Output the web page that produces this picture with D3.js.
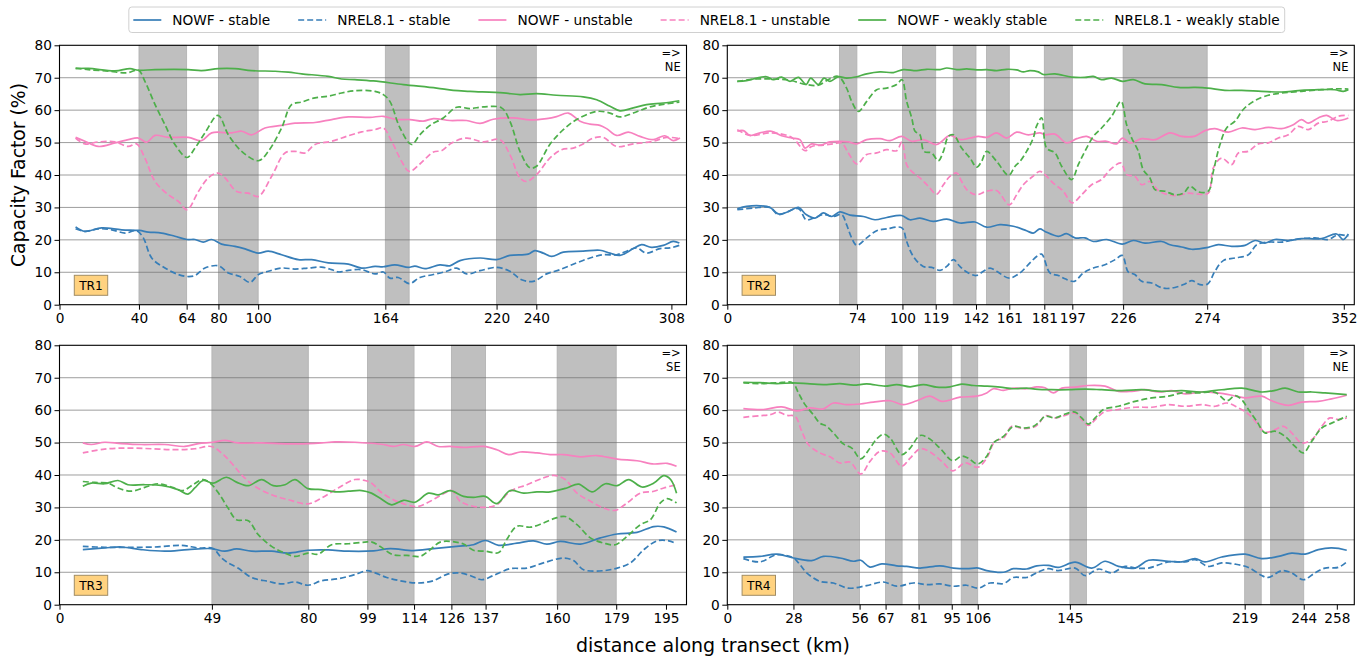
<!DOCTYPE html>
<html>
<head>
<meta charset="utf-8">
<script src="https://cdn.jsdelivr.net/npm/d3@7"></script>
<style>
  html, body { margin: 0; padding: 0; background: #fff; }
  svg { display: block; font-family: "DejaVu Sans", sans-serif; }
</style>
</head>
<body>
<svg id="fig" width="1372" height="657"></svg>
<script>
// ---------------- data ----------------
const legendLabels = ["NOWF - stable", "NREL8.1 - stable", "NOWF - unstable",
                      "NREL8.1 - unstable", "NOWF - weakly stable", "NREL8.1 - weakly stable"];
const yTicks = [0, 10, 20, 30, 40, 50, 60, 70, 80];

// Transect TR1
const tr1Ticks = [0, 40, 64, 80, 100, 164, 220, 240, 308];
const tr1Bands = [[40, 64], [80, 100], [164, 176], [220, 240]];
const tr1NowfStable = [[8.1,24],[12.8,22.6],[21.2,23.7],[31.3,23.1],[40.2,22.9],[44.7,22.4],[51.4,22.1],[58.1,21.1],[64.2,20.1],[68.2,20.1],[72.4,19.3],[76.6,20.1],[81.6,18.7],[88.3,18],[93.4,17.2],[100.1,15.9],[105.1,16.5],[111.8,15.4],[120.2,13.9],[126.9,13.9],[135.3,12.9],[145.4,12.5],[152.1,11.3],[158.8,11.8],[163,11.7],[168.8,12.3],[175.6,11.5],[178.9,11.9],[183.9,11.1],[191.5,12.3],[196.5,12],[201.6,13.6],[211.7,14.4],[220,13.9],[226.7,15.2],[235.9,15.6],[239.3,16.7],[243.5,15.9],[247.7,14.9],[253.6,16.2],[263.6,16.5],[272,16.8],[277.1,15.9],[282.1,15.2],[288.8,17.3],[293,18.5],[298,17.7],[303.9,18.3],[308.9,19.5],[312,19]];
const tr1NrelStable = [[8.1,23.4],[12.8,22.6],[19.5,23.4],[26.3,23.1],[33,22.1],[38.8,22.8],[42.2,20.6],[46.4,14.4],[53.1,11.3],[59.8,9.3],[64.2,8.7],[68.2,9],[73.2,11.3],[80,12],[85,9.8],[90.8,8.7],[95.9,6.9],[100.1,9.3],[105.1,10.3],[111.8,11.3],[118.5,11],[125.2,11.3],[131.9,11.6],[137,10.8],[140.3,10.1],[145.4,10.6],[152.1,10.8],[158.8,9.5],[163,10.1],[166.3,8.2],[170.5,8.4],[176.1,6.5],[181.4,8.4],[188.2,9.3],[194.8,10.3],[199.9,11.3],[204.9,9.5],[211.7,10.5],[220,11.5],[226.7,10.3],[232.6,7.7],[238.5,7.2],[245.2,9.5],[251.9,10.8],[260.3,12.9],[267,14.4],[273.7,15.4],[280.4,15.4],[285.5,16.5],[290.5,17.5],[295.5,15.9],[302.2,17.3],[307.3,17.5],[312,18.3]];
const tr1NowfUnstable = [[8.1,51.6],[12.8,50.4],[19.5,48.8],[27.9,49.9],[34.6,50.9],[39.7,51.4],[43.9,50.1],[48.1,52.2],[54.8,51.6],[64.8,51.6],[71.5,50.6],[76.6,53],[86.6,53],[91.7,53.5],[96.7,52.4],[103.4,54.5],[111.8,55.3],[118.5,56],[128.6,56.2],[137,57.1],[145.4,57.9],[156.3,57.8],[163,58.1],[169.7,57.1],[176.4,57.1],[183.1,56.6],[188.2,57.4],[196.5,56.8],[204.9,56.8],[211.7,55.9],[218.3,57.2],[228.4,57.6],[236.8,57],[245.2,57.4],[250.2,58],[256.1,59.1],[262,56.6],[267,55.7],[272,55.3],[275.4,54.3],[280.4,52.2],[286.3,53.2],[292.2,51.9],[298.9,50.9],[304.7,52.1],[308.9,50.6],[312.3,51.4]];
const tr1NrelUnstable = [[8.1,51.4],[12.8,49.6],[19.5,50.2],[27.9,50.2],[34.6,48.8],[38.8,49.6],[43,45.2],[48.1,38],[54.8,33.9],[59.8,31.9],[64.2,29.3],[69.9,34.9],[74.9,39.1],[79.8,40.6],[83.3,39.1],[89.2,34.9],[95,34.4],[100.1,33.4],[106.8,39.6],[113.5,46.8],[118.5,47.3],[123.6,46.8],[128.6,49.4],[137,50.4],[145.4,52.1],[152.1,53.3],[158.8,54],[163,54.5],[167.2,50.4],[172.2,44.2],[176.1,41.1],[181.4,43.4],[188.2,47.1],[192.3,47.5],[197.4,49.9],[204.9,51.4],[213.3,50.2],[221.7,50.9],[226.7,46.3],[231.8,39.1],[235.1,38],[240.1,40.1],[246.8,45.2],[252.7,47.8],[258.6,48.3],[263.6,49.6],[268.7,51.4],[273.7,51.6],[280.4,48.8],[288.8,49.6],[298.9,50.4],[305.6,51.6],[312.3,51.2]];
const tr1NowfWeak = [[8.1,72.8],[14.5,72.9],[27.9,72.1],[35.5,72.8],[39.7,72.3],[48.1,72.5],[64.8,72.5],[71.5,72.2],[80,72.8],[88.3,72.8],[96.7,72.2],[108.5,72],[115.2,71.7],[121.9,71.2],[135.3,70.4],[142,69.6],[148.7,69.4],[158,69],[173.1,67.9],[189.8,66.8],[198.2,66.1],[206.6,65.8],[223.4,65.3],[231.8,64.8],[240.1,65.1],[250.2,64.6],[263.6,64.1],[270.4,63.2],[277.1,61.2],[282.1,59.8],[288.8,60.7],[295.5,61.7],[303.9,62.2],[312,62.9]];
const tr1NrelWeak = [[8.1,73],[14.5,72.5],[25,72],[34,71.5],[39.7,72.3],[43,68.9],[48.1,61.7],[53.1,55.5],[58.1,49.4],[64.2,45.4],[68.2,48.3],[73.2,53],[79.8,58.4],[85,52.4],[91.7,47.3],[100.1,44.4],[105.1,47.3],[111.8,54.5],[116.8,61.7],[121.9,62.5],[128.6,63.8],[135.3,64.3],[142,65.3],[148.7,66],[158.8,65.8],[163,64.8],[166.3,62.7],[171.4,54.5],[177.2,49.4],[181.4,52.4],[186.5,55.3],[193.2,57.6],[199.9,60.9],[206.6,60.5],[213.3,61],[222.5,60.7],[226.7,56.6],[231.8,47.3],[236.8,42.2],[240.1,42.7],[246.8,49.4],[253.6,54],[260.3,57.1],[270.4,59.6],[277.1,59.1],[282.1,57.9],[288.8,59.1],[297.2,61],[312,62.5]];

// Transect TR2
const tr2Ticks = [0, 74, 100, 119, 142, 161, 181, 197, 226, 274, 352];
const tr2Bands = [[64, 74], [100, 119], [129, 142], [148, 161], [181, 197], [226, 274]];
const tr2NowfStable = [[5.7,29.6],[11,30.3],[18.7,30.5],[24.4,30],[29.1,28],[34.4,28.6],[40.6,30],[45,27.8],[50.1,26.7],[54.8,28.3],[59.6,27.2],[64.3,28.6],[70.1,27.6],[77.7,27.2],[84.3,26.2],[91,26.9],[99.5,27.5],[104.3,26.2],[110,26.7],[117.6,25.7],[125.3,26.4],[132.8,25.2],[141.4,25.5],[148.1,23.9],[155.7,24.7],[163.3,24.2],[170.9,22.8],[174.7,22.1],[178.5,23.4],[181.4,22.6],[189,21.1],[193.7,21.9],[198.5,20.6],[204.2,20.6],[209,19.5],[216.6,20.1],[225.5,18.7],[231.8,19.8],[238.5,19],[248,19.5],[252.8,18.5],[259.4,17.8],[265.2,17.1],[274.6,17.7],[280.3,18.5],[288,18],[295.6,18.3],[301.3,19.8],[307,19],[312.7,20.1],[320.3,19.8],[327.9,20.4],[339.3,20.4],[347.9,21.8],[351.7,20.1],[354.6,21.8]];
const tr2NrelStable = [[5.7,29.3],[14.9,29.8],[24.4,30],[29.1,27.8],[40.6,29.6],[45,26.2],[50.1,26.9],[54.8,27.8],[60.5,27.2],[65.3,27.8],[68.1,24.7],[71,20.6],[73.9,18.3],[79.6,20.6],[85.3,22.8],[91,23.4],[99.7,23.7],[102.4,19.5],[106.2,14.9],[111.9,11.8],[116.7,11.5],[121.5,10.6],[125.3,11.8],[129.1,13.9],[132.8,11.8],[136.7,10.1],[142,9],[146.2,10.3],[150,11.3],[153.8,10.3],[161,8.2],[167.1,9.8],[172.8,12.9],[177,15],[179.5,15.6],[184.2,9.8],[189,9],[192.8,8],[198.1,7.2],[203.3,9.8],[209,11.3],[215.6,12.3],[221.4,13.9],[225.5,15.2],[228.9,10.1],[232.7,9.3],[236.6,7.2],[242.3,6.7],[248.9,5.1],[255.6,5.3],[261.3,6.4],[265.2,7.4],[269.9,6.2],[274.3,6.4],[278.4,10.3],[283.2,13.6],[289.9,14.4],[297.5,15.4],[302.3,18.5],[308.9,19.3],[316.5,19.3],[324.1,20.1],[335.5,20.6],[343.1,20.1],[348.8,21.6],[354.6,21.1]];
const tr2NowfUnstable = [[5.7,53.5],[9.2,53.7],[13,52.2],[18.7,53],[25.3,53.5],[31,52.1],[36.8,51.4],[41.5,50.9],[44.4,48.3],[48.2,49.6],[53,49.2],[58.6,50.2],[64.3,50.4],[69.1,50.2],[73.9,49.6],[79.6,50.9],[87.2,51.2],[92.9,50.6],[99.5,51.9],[105.3,50.4],[111.9,50.9],[119.5,49.4],[127.1,52.2],[132.8,50.9],[138.6,51.4],[143.3,51.9],[148.1,51.6],[153.8,53],[159.5,51.4],[165.2,53.2],[171.9,52.4],[178.5,53],[181.4,52.4],[187.1,52.6],[193.7,49.9],[199.5,51.2],[205.2,51.9],[210.9,50.4],[216.6,50.4],[222.3,49.6],[225.5,51.4],[229.9,49.9],[236.6,51.2],[244.2,50.9],[252.8,53],[259.4,51.9],[267.1,52],[272.7,53.7],[278.4,54.3],[286.1,53.2],[293.7,54.5],[301.3,54],[308.9,54.7],[316.5,54.3],[323.2,55.5],[327.9,57.1],[331.7,56],[337.4,57.6],[342.2,58.4],[347.9,56.8],[354.6,57.6]];
const tr2NrelUnstable = [[5.7,54],[13,52.2],[25.3,53],[36.8,51.6],[44.4,47.5],[48.2,48.8],[54.8,49.2],[60.5,49.6],[65.3,49.9],[69.1,46.8],[73.9,43.4],[79.6,46.3],[85.3,46.8],[91,47.8],[96.7,47.5],[99.7,50.2],[102.4,43.2],[105.3,41.1],[110,39.1],[114.8,36.5],[119.5,34.1],[123.4,37],[127.1,39.6],[131,40.6],[133.8,38],[136.7,35.5],[142,33.9],[148.1,35],[153.8,35.2],[161,30.8],[165.2,33.9],[169,37],[173.8,39.3],[178.5,41.1],[181.4,40.1],[186.1,37.5],[191.8,35],[196.9,31.4],[202.3,33.9],[208,37],[213.7,38.6],[218.5,41.6],[224.8,43.7],[228,40.1],[232.7,39.6],[236.6,37],[241.3,38],[246.1,35.2],[251.8,33.9],[257.5,33.7],[263.2,34.4],[269,34.1],[274.6,34.4],[277.5,42.2],[282.2,45.2],[288,43.2],[291.8,46.8],[297.5,47.3],[303.2,49.6],[308.9,49.9],[314.6,51.4],[320.3,52.4],[326,55],[331.7,54],[337.4,56],[343.1,56.6],[348.8,58.1],[354.6,58.4]];
const tr2NowfWeak = [[5.7,68.9],[11,69.1],[16.8,69.9],[22.5,70.3],[26.3,69.4],[31,70.2],[35.8,68.9],[40.6,70.1],[45,67.9],[47.6,69.9],[52,67.9],[55.2,69.9],[58.6,68.9],[63.4,70.3],[68.1,69.9],[73.9,70.3],[79.6,71.2],[87.2,71.8],[94.8,71.6],[100.5,72.5],[108.1,72.2],[113.8,72.6],[121.5,72.5],[125.3,73],[131,72.5],[136.7,72.7],[142.4,72.4],[148.1,72.5],[153.8,72.2],[159.5,72.6],[165.2,72.4],[169,71.8],[172.8,72.2],[177.6,71.8],[180.4,71],[187.1,71.2],[196.6,70.2],[204.2,70.1],[209,70.4],[213.7,69.4],[219.4,69.9],[225.5,68.9],[231.8,69.4],[238.5,68.1],[248,67.9],[257.5,67],[267.1,67],[274.3,66.8],[284.1,66.1],[293.7,66.1],[305.1,65.8],[316.5,65.6],[326,66],[337.4,66.3],[346.9,66.3],[351.7,65.8],[354.6,66.3]];
const tr2NrelWeak = [[5.7,68.9],[16.8,69.6],[26.3,69.6],[35.8,69.2],[45,67.9],[52,67.7],[58.6,69.7],[63.4,70.4],[68.1,66.8],[71,62.7],[74.8,59.6],[79.6,62.7],[85.3,66.3],[91,66.8],[96.7,67.9],[99.7,69.4],[102.4,62.7],[105.3,57.6],[107.2,53.5],[110,52.4],[112.3,47.3],[116.7,46.8],[120.5,44.4],[123.4,47.3],[126.2,51.9],[129.1,52.4],[133.8,48.3],[138.6,45.2],[142.4,42.4],[145.2,44.2],[148.1,47.3],[153.8,44.2],[160.6,39.9],[164.3,42.7],[167.1,44.2],[170.9,47.3],[174.7,51.4],[176.5,55],[179.5,57.6],[182.3,48.3],[187.1,46.8],[190.9,42.7],[196.6,38.6],[200.4,43.2],[204.2,47.3],[209,51.9],[213.7,54.5],[219.4,58.1],[224.8,62.7],[228,55.5],[230.9,51.4],[234.7,47.3],[237.5,41.6],[241.3,39.1],[244.2,35.5],[249.9,35],[255.6,33.9],[260.4,34.4],[264.2,36.5],[269,34.8],[274.6,35],[277.5,41.1],[281.3,49.4],[285.1,54.5],[289.9,56.6],[294.6,60.2],[300.4,62.7],[307,64.3],[316.5,65.3],[327.9,65.8],[339.3,66.3],[348.8,66.6],[354.6,66.5]];

// Transect TR3
const tr3Ticks = [0, 49, 80, 99, 114, 126, 137, 160, 179, 195];
const tr3Bands = [[49, 80], [99, 114], [126, 137], [160, 179]];
const tr3NowfStable = [[7.5,17],[14.5,17.5],[19.9,17.8],[26.3,17],[33.8,16.5],[41.3,17],[48.8,17.3],[53.1,16.5],[56.9,17.2],[61.7,16.5],[68.2,16.5],[73.5,15.9],[79.9,16.8],[86.4,16.9],[92.9,16.5],[101,16.6],[106.3,17.3],[113.8,16.7],[120.2,17.3],[127.7,18],[133.1,18.5],[136.9,19.8],[141.2,18.3],[147.1,19],[152.4,19.7],[156.7,18.7],[161,19.5],[167.5,18.7],[173.9,20.6],[179.3,21.8],[185.7,22.3],[191.1,24.1],[194.3,24],[198.4,22.4]];
const tr3NrelStable = [[7.5,18],[14.5,17.7],[22,17.7],[30.6,17.8],[39.2,18.3],[44.6,17.5],[49.4,17.3],[52.1,14.4],[54.2,12.9],[57.4,11.3],[61.7,8.4],[67.1,7.2],[71.4,6.4],[75.7,7],[79.9,6],[84.3,7.4],[89.6,8],[95,9.3],[98.8,10.5],[101,10],[105.2,8.4],[110.6,7.2],[115.4,6.7],[120.2,7.4],[125,9.5],[128.8,9.8],[132,9],[135.8,7.7],[139.5,9],[144.9,11.1],[150.3,11.3],[155.6,12.9],[162.1,14.4],[165.3,13.6],[168.5,10.8],[175,10.5],[179.3,11.3],[183.6,12.9],[187.9,17],[192.2,19.7],[195.9,19.7],[198.4,18.8]];
const tr3NowfUnstable = [[7.5,49.9],[10.2,49.4],[14.5,50.1],[19.9,49.7],[26.3,49.4],[33.8,49.4],[40.3,48.8],[44.6,49.7],[49.4,50.1],[53.1,50.7],[57.4,49.9],[65,49.9],[73.5,49.6],[79.9,49.7],[84.3,49.9],[88.6,50.2],[95,50.1],[100,49.8],[104.1,49.4],[107.3,48.8],[110.6,49.4],[114.3,48.8],[118.1,50.2],[121.8,48.8],[125.6,48.8],[129.9,48.5],[136.3,48.8],[140.6,47.8],[144.4,46.3],[148.1,47.1],[153.5,46.8],[157.8,46.3],[162.1,46.3],[167.5,45.6],[172.8,46],[179.3,44.9],[185.7,44.4],[191.1,43.4],[195.4,43.6],[198.4,42.7]];
const tr3NrelUnstable = [[7.5,46.8],[14.5,48],[22,48.3],[29.5,48.1],[37,47.8],[43.5,48.1],[48.8,48.8],[52.1,46.8],[55.3,43.7],[58.5,40.1],[62.8,36.5],[68.2,33.9],[73.5,32.4],[79.9,31.1],[84.3,32.9],[89.6,36],[95,38.6],[98.2,38.3],[100.5,37.4],[103,35],[107.3,32.4],[111.7,30.8],[115.4,30.3],[119.2,31.9],[122.9,33.9],[126.1,35.2],[128.8,31.9],[132,30.6],[136.9,30],[140.6,30.8],[144.9,35],[150.3,37],[155.6,39.1],[158.9,39.9],[162.6,38.6],[166.4,34.4],[170.7,31.9],[175,29.8],[178.7,29.1],[182.5,31.4],[186.8,34.4],[191.1,35],[194.3,36],[198.4,37]];
const tr3NowfWeak = [[7.5,36.5],[10.2,37.5],[14.5,37.3],[18.8,38.3],[22,37],[27.4,37],[32.7,36.8],[38.1,35.5],[41.3,34.1],[43.5,36],[46.2,38.3],[49.4,37.5],[53.7,39.3],[56.9,37.8],[60.7,36.7],[65,38.6],[68.7,36.7],[72.5,37],[75.7,38.6],[79.9,35.8],[84.3,35.5],[88.6,34.8],[92.9,35],[97.2,35.2],[100.3,34.4],[103,32.9],[106.8,30.8],[110.6,32.2],[114.3,31.6],[118.6,34.4],[121.8,33.9],[125.6,35.2],[129.9,33.4],[133.1,33.1],[136.9,33.4],[140.6,31.2],[144.9,35.2],[149.2,34.4],[153.5,34.8],[157.8,34.8],[163.1,36],[166.9,37.2],[171.2,34.8],[175.5,37.3],[179.3,36.7],[183,38.6],[187.3,36.3],[191.1,37.5],[194.3,39.8],[196.5,38.6],[198.4,34.4]];
const tr3NrelWeak = [[7.5,38],[11.3,37.7],[15.6,37.5],[18.8,36],[23.1,35],[27.4,36.2],[31.7,37.3],[36,36.3],[39.7,35.2],[42.9,37],[46.2,38.6],[48.8,37.2],[51.5,33.9],[54.2,29.8],[56.9,26.2],[60.7,25.9],[63.9,21.6],[68.2,18],[72.5,15.9],[75.7,14.9],[79.9,15.9],[83.2,15.6],[87.5,18.5],[92.9,18.8],[98.2,19.3],[100.5,19.3],[103,18],[107.3,15.4],[111.7,15.2],[115.9,14.9],[118.6,16.5],[122.4,19.3],[126.1,19.5],[129.9,18.7],[133.1,16.8],[136.9,16.5],[141.2,16.1],[143.8,20.1],[147.1,24.2],[151.4,23.9],[155.6,25.2],[159.4,26.7],[162.6,27.2],[166.4,24.7],[170.7,20.6],[175,19],[178.7,18.5],[182.5,21.1],[186.8,24.7],[190,26.2],[193.2,31.4],[195.4,32.7],[198.4,31.4]];

// Transect TR4
const tr4Ticks = [0, 28, 56, 67, 81, 95, 106, 145, 219, 244, 258];
const tr4Bands = [[28, 56], [67, 74], [81, 95], [99, 106], [145, 152], [219, 226], [230, 244]];
const tr4NowfStable = [[6.8,14.7],[13.8,14.9],[20.9,15.6],[28,14.4],[35.7,13.6],[40.7,14.9],[47.7,14.4],[53.4,13.4],[56.5,13.7],[60.4,11.6],[65.4,12.6],[71.7,12],[75.9,11.8],[81.6,11.3],[90,12],[95.7,11.3],[101.3,11.1],[106.3,11.3],[109.8,10.5],[116.9,10],[121.1,11.1],[126.7,11],[131,12],[135.9,12.1],[140.1,11.5],[147.2,13.1],[154.3,11.3],[159.9,13.4],[165.6,11.8],[172.6,11.3],[178.3,13.7],[186.7,13.4],[192.4,13.2],[198,14.2],[202.2,13.2],[209.3,14.7],[219.2,15.6],[226.2,14.2],[233.3,14.9],[238.9,15.9],[244.6,15.6],[250.2,17],[255.8,17.5],[262.2,16.8]];
const tr4NrelStable = [[6.8,14.2],[13.8,13.2],[20.9,15.4],[28,14.4],[30.8,12.3],[33.6,9.8],[39.2,7.2],[44.9,6.7],[51.2,5.1],[59,5.9],[66.1,7],[71.7,5.7],[78.8,6.7],[84.4,6.2],[90,6.4],[95.7,5.7],[101.3,6],[106.3,5.1],[111.2,6.7],[116.9,6.5],[121.1,8.4],[126.7,8.4],[132,10.2],[135.9,11.1],[140.1,10.5],[147.2,11.3],[151.4,9],[157.1,11],[162.7,9.8],[168.4,11.8],[172.6,11.3],[178.3,11.3],[186.7,13.2],[193.8,13.2],[198,13.9],[203.6,11.8],[209.3,12.9],[215,12.5],[220.6,11.5],[226.2,9],[229,8.4],[234.7,10.5],[238.9,9.8],[243.8,7.7],[248.7,9.8],[253,11.3],[258.6,11.5],[262.2,13.2]];
const tr4NowfUnstable = [[6.8,60.5],[15.3,60.2],[23,61],[29.4,59.8],[35,60.7],[40.7,60.4],[44.9,62.2],[50.5,61.7],[56.2,61.9],[61.8,62.5],[68.9,62.9],[74.5,61.7],[80.2,62.9],[85.8,64.3],[90.8,62.7],[98.5,64],[105.6,64.3],[109.8,65.3],[112.6,66.6],[116.9,66.1],[121.1,66.8],[126.7,66.6],[131,67.2],[134.5,66.9],[138,65.3],[141.6,66.8],[147.2,67.1],[152.8,67.6],[159.9,67.4],[165.6,65.8],[171.2,65.8],[176.9,66.3],[182.5,65.6],[188.1,66],[193.8,65],[200.8,65.6],[207.2,65.3],[213.6,64.6],[219.2,63.8],[226.2,64.3],[230.4,62.9],[237.5,61.5],[243.1,62.5],[250.2,62.7],[255.8,63.5],[262.2,64.6]];
const tr4NrelUnstable = [[6.8,57.8],[13.8,58.3],[18.1,58.6],[21.6,59.4],[25.1,58.4],[28.7,58.1],[31.5,53.5],[34.3,49.4],[39.2,46.8],[43.5,45.6],[47.7,43.7],[51.9,44],[56.5,40.3],[60.4,44.2],[64.6,47.3],[68.9,46.8],[73.8,42.7],[77.4,45.2],[81.6,48.1],[85.8,47.1],[90.8,44.2],[95.4,41.3],[100.6,43.7],[106,42.4],[109.8,45.2],[113.3,50.4],[116.9,51.4],[120.4,55],[125.3,54.3],[129.6,54.7],[132,56],[134.5,58.3],[138.8,57.6],[143,58.4],[147.2,59.1],[150,57.1],[152.8,55.3],[156.4,57.6],[159.9,59.6],[165.6,60.2],[172.6,60.9],[179.7,60.9],[186.7,61.7],[193.8,61.2],[200.8,61.7],[206.5,61.2],[211.4,62.2],[216.4,60.7],[220.6,58.8],[224.1,56],[227.6,53.2],[231.9,54],[235.4,55],[238.9,53],[243.1,49.9],[247.4,50.9],[251.6,55],[255.1,57.6],[258.6,57.1],[262.2,57.6]];
const tr4NowfWeak = [[6.8,68.6],[13.8,68.5],[20.9,68.2],[28,68.4],[35,68.1],[42.1,67.9],[47.7,68.2],[53.4,67.7],[59,68.1],[66.8,67.4],[71.7,67.9],[77.4,67.2],[83,67.9],[88.6,67.1],[94.3,67.2],[99.2,68],[104.2,67.6],[109.8,67.4],[115.5,67.1],[121.1,66.6],[126.7,66.8],[130.3,66.5],[137.3,66.3],[144.4,66.3],[151.4,66.5],[158.5,66.3],[167,66],[175.4,66.3],[183.9,65.8],[192.4,66],[200.8,65.6],[209.3,66.3],[217.8,66.8],[226.2,65.6],[231.9,66.1],[236.1,66.8],[241.7,65.6],[247.4,65.6],[253,65.3],[262.2,64.8]];
const tr4NrelWeak = [[6.8,68.4],[13.8,68.2],[20.9,68.4],[27.7,68.4],[30.1,65.3],[32.9,61.7],[36.4,58.6],[39.2,56],[42.1,55],[45.6,52.4],[49.1,49.6],[52.7,48.3],[56.5,45],[60.4,48.3],[63.2,51.1],[66.1,52.6],[68.9,51.4],[73.8,46.3],[77.4,48.3],[81.6,52.2],[85.1,51.4],[90,48.3],[95.4,44.4],[99.2,45.8],[102,45.2],[106,43.4],[109.8,45.8],[112.6,49.9],[116.9,51.9],[121.1,55],[125.3,54.5],[129.6,55],[132,56.3],[134.5,58.1],[138.8,57.6],[143,58.8],[147.2,59.4],[150,57.6],[152.8,55.7],[155.7,57.6],[159.2,60.2],[165.6,61.2],[172.6,62.7],[179.7,63.8],[186.7,64.3],[192.4,65.3],[199.4,65.3],[206.5,65.5],[211.4,62.9],[215,64.5],[217.8,63.2],[220.6,60.2],[224.1,56.6],[227.6,53],[231.9,53.5],[236.1,51.9],[240.3,48.8],[243.8,46.8],[247.4,50.4],[251.6,54.5],[255.8,56],[262.2,58.1]];

// ---------------- styles ----------------
const seriesColors = ["#377eb8", "#377eb8", "#f781bf", "#f781bf", "#4daf4a", "#4daf4a"];
const seriesDashed = [false, true, false, true, false, true];

const panels = [
  { name: "TR1", dir: "NE", xMax: 315.6, ticks: tr1Ticks, bands: tr1Bands,
    series: [tr1NowfStable, tr1NrelStable, tr1NowfUnstable, tr1NrelUnstable, tr1NowfWeak, tr1NrelWeak] },
  { name: "TR2", dir: "NE", xMax: 358, ticks: tr2Ticks, bands: tr2Bands,
    series: [tr2NowfStable, tr2NrelStable, tr2NowfUnstable, tr2NrelUnstable, tr2NowfWeak, tr2NrelWeak] },
  { name: "TR3", dir: "SE", xMax: 201.6, ticks: tr3Ticks, bands: tr3Bands,
    series: [tr3NowfStable, tr3NrelStable, tr3NowfUnstable, tr3NrelUnstable, tr3NowfWeak, tr3NrelWeak] },
  { name: "TR4", dir: "NE", xMax: 265.4, ticks: tr4Ticks, bands: tr4Bands,
    series: [tr4NowfStable, tr4NrelStable, tr4NowfUnstable, tr4NrelUnstable, tr4NowfWeak, tr4NrelWeak] }
];

// ---------------- layout ----------------
const svg = d3.select("#fig");
const FONT = '"DejaVu Sans", sans-serif';
const W = 627, H = 259.4;
const origins = [[59.5, 45.3], [727.3, 45.3], [59.5, 345.3], [727.3, 345.3]];

svg.append("rect").attr("width", 1372).attr("height", 657).attr("fill", "#fff");

panels.forEach((p, i) => {
  const [ox, oy] = origins[i];
  const g = svg.append("g").attr("transform", `translate(${ox},${oy})`);
  const x = d3.scaleLinear().domain([0, p.xMax]).range([0, W]);
  const y = d3.scaleLinear().domain([0, 80]).range([H, 0]);

  // shaded segments
  g.selectAll("rect.band").data(p.bands).join("rect")
    .attr("class", "band")
    .attr("x", d => x(d[0])).attr("width", d => x(d[1]) - x(d[0]))
    .attr("y", 0).attr("height", H)
    .attr("fill", "#bfbfbf")
    .attr("stroke", "#b0b0b0").attr("stroke-width", 0.8);

  // horizontal grid
  g.selectAll("line.grid").data(yTicks.filter(v => v > 0 && v < 80)).join("line")
    .attr("class", "grid")
    .attr("x1", 0).attr("x2", W)
    .attr("y1", d => y(d)).attr("y2", d => y(d))
    .attr("stroke", "#6e6e6e").attr("stroke-opacity", 0.75).attr("stroke-width", 0.9);

  // series lines
  const line = d3.line()
    .x(d => x(d[0])).y(d => y(d[1]))
    .curve(d3.curveCatmullRom.alpha(0.5));
  p.series.forEach((s, k) => {
    g.append("path")
      .datum(s)
      .attr("d", line)
      .attr("fill", "none")
      .attr("stroke", seriesColors[k])
      .attr("stroke-width", 1.7)
      .attr("stroke-linejoin", "round")
      .attr("stroke-dasharray", seriesDashed[k] ? "6,3" : null);
  });

  // axes
  const xAxis = g.append("g").attr("transform", `translate(0,${H})`)
    .call(d3.axisBottom(x).tickValues(p.ticks).tickFormat(d3.format("d"))
      .tickSize(5).tickPadding(4));
  const yAxis = g.append("g")
    .call(d3.axisLeft(y).tickValues(yTicks).tickFormat(d3.format("d"))
      .tickSize(5).tickPadding(2.5));
  [xAxis, yAxis].forEach(a => {
    a.select(".domain").remove();
    a.attr("font-family", FONT).attr("font-size", 13.7);
    a.selectAll("line").attr("stroke", "#000").attr("stroke-width", 1);
    a.selectAll("text").attr("fill", "#000");
  });

  // frame
  g.append("rect").attr("width", W).attr("height", H)
    .attr("fill", "none").attr("stroke", "#000").attr("stroke-width", 1.1);

  // direction marker
  g.append("text").attr("x", W - 5.8).attr("y", 7.7).attr("dy", "0.35em")
    .attr("text-anchor", "end").attr("font-family", FONT).attr("font-size", 11.5)
    .text("=>");
  g.append("text").attr("x", W - 5.8).attr("y", 21.9).attr("dy", "0.35em")
    .attr("text-anchor", "end").attr("font-family", FONT).attr("font-size", 11.5)
    .text(p.dir);

  // transect tag
  const bx = 14.8, bw = 33.4, bh = 20, by = H - 9.4 - bh;
  g.append("rect").attr("x", bx).attr("y", by).attr("width", bw).attr("height", bh)
    .attr("fill", "#ffd280").attr("stroke", "#a08c64").attr("stroke-width", 1);
  g.append("text").attr("x", bx + bw / 2).attr("y", by + bh / 2).attr("dy", "0.36em")
    .attr("text-anchor", "middle").attr("font-family", FONT).attr("font-size", 12.2)
    .text(p.name);
});

// axis titles
svg.append("text")
  .attr("transform", "translate(18,175) rotate(-90)")
  .attr("dy", "0.35em").attr("text-anchor", "middle")
  .attr("font-family", FONT).attr("font-size", 18.8)
  .text("Capacity Factor (%)");
svg.append("text")
  .attr("x", 713).attr("y", 645).attr("dy", "0.35em").attr("text-anchor", "middle")
  .attr("font-family", FONT).attr("font-size", 19)
  .text("distance along transect (km)");

// legend
const lg = svg.append("g");
const box = lg.append("rect");
let cx = 0;
legendLabels.forEach((lab, k) => {
  lg.append("line").attr("x1", cx).attr("x2", cx + 28).attr("y1", 0).attr("y2", 0)
    .attr("stroke", seriesColors[k]).attr("stroke-width", 1.7)
    .attr("stroke-dasharray", seriesDashed[k] ? "6,3" : null);
  const t = lg.append("text").attr("x", cx + 39).attr("y", 0).attr("dy", "0.35em")
    .attr("font-family", FONT).attr("font-size", 13.7).text(lab);
  cx += 39 + t.node().getComputedTextLength() + 28;
});
const total = cx - 28;
box.attr("x", -4.5).attr("y", -13).attr("width", total + 9.5).attr("height", 25.5)
  .attr("rx", 3).attr("fill", "#fff").attr("stroke", "#d0d0d0").attr("stroke-width", 1);
lg.attr("transform", `translate(${706.5 - total / 2},20)`);
</script>
</body>
</html>
